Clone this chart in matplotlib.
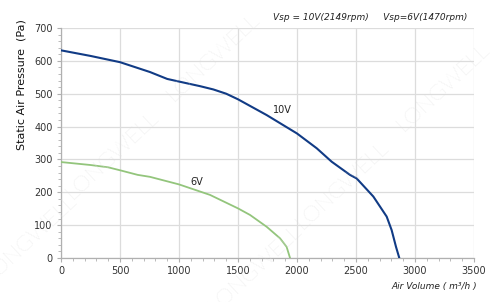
import matplotlib.pyplot as plt
from matplotlib.ticker import MultipleLocator

# fan curves
q_10v = [0, 250, 500, 754, 900, 1000, 1178, 1291, 1400, 1500, 1743, 2000,
         2167, 2294, 2449, 2506, 2647, 2760, 2802, 2839, 2867]
p_10v = [632, 615, 596, 566, 545, 537, 523, 513, 500, 483, 435, 379,
         334, 293, 253, 242, 187, 126, 85, 34, 0]
q_6v = [0, 250, 400, 500, 650, 754, 1000, 1263, 1500, 1602, 1743, 1856, 1912, 1941]
p_6v = [292, 283, 276, 267, 253, 247, 224, 192, 151, 131, 95, 60, 34, 0]

x_ticks = [0, 500, 1000, 1500, 2000, 2500, 3000, 3500]
y_ticks = [0, 100, 200, 300, 400, 500, 600, 700]

W, H = 500, 302
fig = plt.figure(figsize=(W / 100, H / 100), dpi=100)
ax = fig.add_axes([61 / W, 1 - 258 / H, 413 / W, 230 / H])

# watermark
marks = [(213, 57), (443, 87), (112, 155), (342, 185), (30, 238), (255, 268)]
for mx, my in marks:
    fig.text(mx / W, 1 - my / H, 'LONGWELL', fontsize=16, color='#e0e0e0',
             family='Lato', weight='light', rotation=43,
             ha='center', va='center', zorder=0)

ax.plot(q_10v, p_10v, color='#113b85', lw=1.5, zorder=3)
ax.plot(q_6v, p_6v, color='#93c57c', lw=1.3, zorder=3)
ax.text(1879, 450, '10V', fontsize=7, ha='center', va='center', color='#222222')
ax.text(1150, 232, '6V', fontsize=7, ha='center', va='center', color='#222222')

ax.set_xlim(0, 3500)
ax.set_ylim(0, 700)
ax.set_xticks(x_ticks)
ax.set_yticks(y_ticks)
ax.xaxis.set_minor_locator(MultipleLocator(100))
ax.yaxis.set_minor_locator(MultipleLocator(20))
ax.grid(True, which='major', color='#dcdcdc', lw=0.9)
ax.set_axisbelow(True)
ax.patch.set_alpha(0)
for s in ['top', 'right']:
    ax.spines[s].set_visible(False)
for s in ['left', 'bottom']:
    ax.spines[s].set_color('#b0b0b0')
    ax.spines[s].set_linewidth(0.9)
ax.tick_params(which='major', length=3, color='#b0b0b0', labelsize=7,
               labelcolor='#333333', pad=3)
ax.tick_params(which='minor', length=2, color='#b0b0b0')

fig.text(22 / W, 1 - 85 / H, 'Static Air Pressure  (Pa)', rotation=90,
         fontsize=8, ha='center', va='center', color='#111111')
fig.text(370 / W, 1 - 17 / H, 'Vsp = 10V(2149rpm)     Vsp=6V(1470rpm)',
         fontsize=6.5, style='italic', ha='center', va='center', color='#222222')
fig.text(477 / W, 1 - 287 / H, 'Air Volume ( m³/h )', fontsize=6.5,
         style='italic', ha='right', va='center', color='#222222')

fig.savefig('out.png', dpi=100)
